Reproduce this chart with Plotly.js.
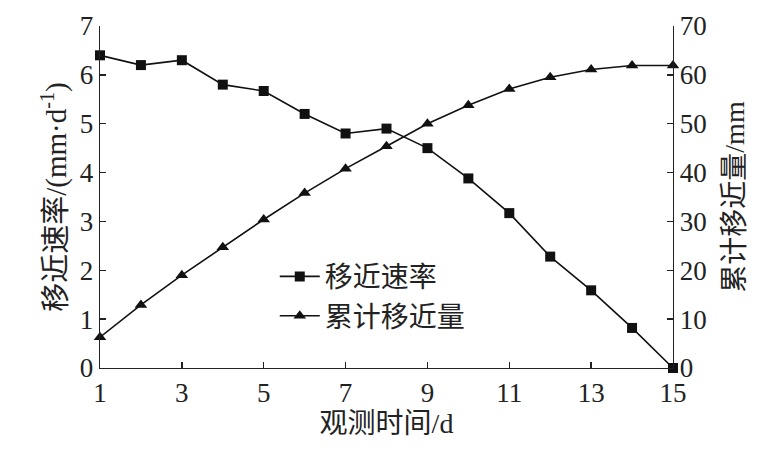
<!DOCTYPE html>
<html><head><meta charset="utf-8">
<script src="https://cdn.plot.ly/plotly-3.0.1.min.js"></script>
<style>html,body{margin:0;padding:0;background:#fff}#c{width:783px;height:454px}</style>
</head><body><div id="c"></div>
<script>
const days = [1,2,3,4,5,6,7,8,9,10,11,12,13,14,15];
const rate = [6.4,6.2,6.3,5.8,5.67,5.2,4.8,4.9,4.5,3.88,3.17,2.28,1.59,0.82,0.0];
const cumulative = [6.3,12.9,19.0,24.7,30.4,35.8,40.8,45.4,50.0,53.8,57.1,59.5,61.1,61.9,61.9];
const xTicks = [1,3,5,7,9,11,13,15];
const seriesNames = ['移近速率','累计移近量'];
const xTitle = '观测时间/d';
const yTitle = '移近速率/(mm·d<sup>-1</sup>)';
const y2Title = '累计移近量/mm';

const numFont = 'Liberation Serif, Times New Roman, serif';
const cjkFont = 'Liberation Serif, Noto Sans CJK SC, serif';

const traces = [
  {x: days, y: rate, name: seriesNames[0], type: 'scatter', mode: 'lines+markers',
   line: {color: '#111', width: 1.6}, marker: {symbol: 'square', size: 10, color: '#111'},
   cliponaxis: false, yaxis: 'y'},
  {x: days, y: cumulative, name: seriesNames[1], type: 'scatter', mode: 'lines+markers',
   line: {color: '#111', width: 1.6}, marker: {symbol: 'triangle-up', size: 11, color: '#111'},
   cliponaxis: false, yaxis: 'y2'}
];
const axisCommon = {showgrid: false, zeroline: false, showline: true, linecolor: '#222', linewidth: 1.3,
  ticks: 'inside', ticklen: 6, tickwidth: 1.3, tickcolor: '#222',
  tickfont: {family: numFont, size: 27, color: '#222'}};
const layout = {
  width: 783, height: 454,
  margin: {l: 100, r: 110, t: 26, b: 86},
  paper_bgcolor: '#fff', plot_bgcolor: '#fff',
  showlegend: true,
  legend: {x: 0.305, y: 0.34, xanchor: 'left', yanchor: 'top', bgcolor: 'rgba(0,0,0,0)',
    font: {family: cjkFont, size: 28, color: '#222'}, tracegroupgap: 0, itemwidth: 40},
  xaxis: Object.assign({}, axisCommon, {range: [1, 15], tickvals: xTicks, ticktext: xTicks.map(String),
    title: {text: xTitle, font: {family: cjkFont, size: 28, color: '#222'}, standoff: 4}}),
  yaxis: Object.assign({}, axisCommon, {range: [0, 7], dtick: 1,
    title: {text: yTitle, font: {family: cjkFont, size: 29, color: '#222'}, standoff: 4}}),
  yaxis2: Object.assign({}, axisCommon, {range: [0, 70], dtick: 10, overlaying: 'y', side: 'right',
    title: {text: y2Title, font: {family: cjkFont, size: 28, color: '#222'}, standoff: 18}})
};
Plotly.newPlot('c', traces, layout, {displayModeBar: false, staticPlot: true});
</script>
</body></html>
